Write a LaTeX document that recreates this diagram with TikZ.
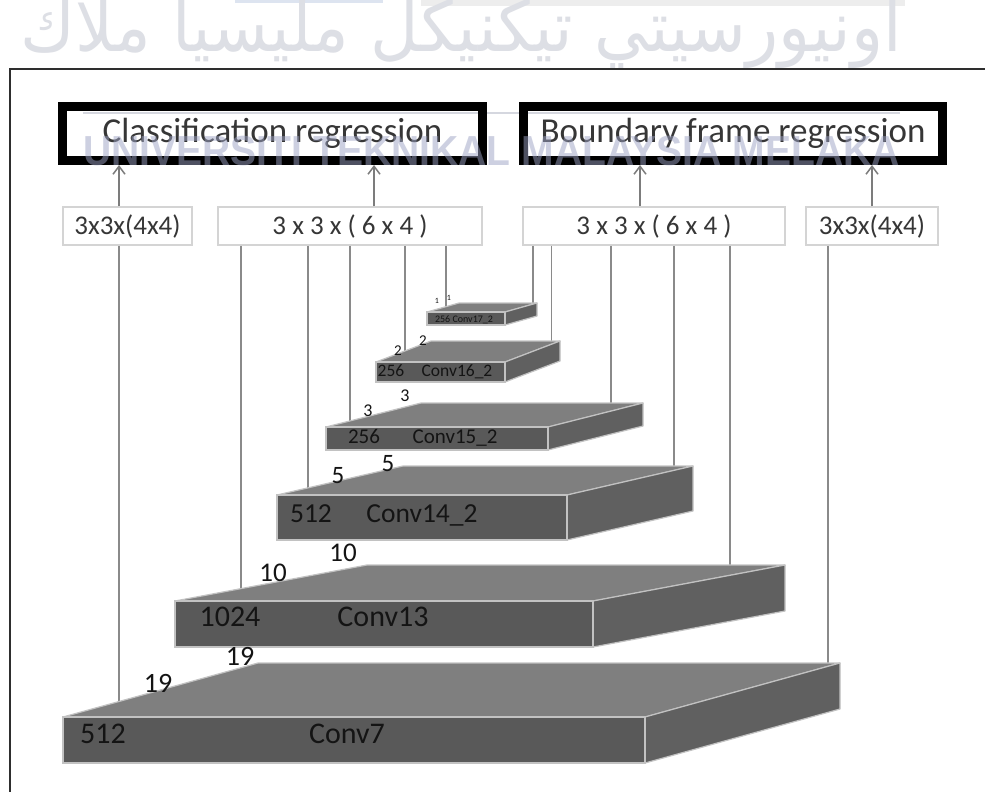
\documentclass[tikz,border=0pt]{standalone}
\usepackage{fontspec}
\usepackage{graphicx}
\setmainfont{Carlito}
\newfontfamily\arabicfont[Script=Arabic]{DejaVu Sans}
\newfontfamily\wmfont{Liberation Sans}
\TeXXeTstate=1
\usetikzlibrary{arrows.meta}

\definecolor{frontgray}{HTML}{595959}
\definecolor{topgray}{HTML}{7F7F7F}
\definecolor{sidegray}{HTML}{606060}
\definecolor{edgegray}{HTML}{C2C2C2}
\definecolor{wiregray}{HTML}{8A8A8A}
\definecolor{arrowgray}{HTML}{7C7C7C}
\definecolor{boxline}{HTML}{D4D4D4}
\definecolor{boxtext}{HTML}{363636}
\definecolor{slabtext}{HTML}{141414}
\definecolor{framegray}{HTML}{2E2E2E}
\definecolor{wmblue}{HTML}{9DA3C4}
\definecolor{wmarabic}{HTML}{DDDFE5}
\definecolor{wmbar}{HTML}{EDEDED}
\definecolor{wmbarblue}{HTML}{DDE4F0}
\definecolor{wmline}{HTML}{D5D7DF}

% one feature-map slab: front-left x, front-right x, top y, bottom y, depth dx, depth dy
\newcommand{\convslab}[6]{%
  \filldraw[fill=topgray,draw=edgegray,line width=1.2pt,line join=round]
    (#1,#3) -- (#2,#3) -- ++(#5,#6) -- ++(#1-#2,0) -- cycle;
  \filldraw[fill=sidegray,draw=edgegray,line width=1.2pt,line join=round]
    (#2,#3) -- ++(#5,#6) -- ++(0,#4-#3) -- (#2,#4) -- cycle;
  \filldraw[fill=frontgray,draw=edgegray,line width=1.2pt]
    (#1,#3) rectangle (#2,#4);
}

\begin{document}
\begin{tikzpicture}[x=1pt,y=-1pt,
  headbox/.style={draw=black,line width=9pt,minimum width=#1,minimum height=54pt,
    inner sep=0pt,text=boxtext,font=\fontsize{35}{40}\selectfont},
  kernbox/.style={draw=boxline,line width=1.5pt,minimum width=#1,minimum height=38pt,
    inner sep=0pt,text=boxtext,font=\fontsize{27}{30}\selectfont},
  wire/.style={draw=wiregray,line width=1.5pt},
  uparrow/.style={draw=arrowgray,line width=1.5pt,-{Straight Barb[length=8pt,width=12pt]}},
  slablabel/.style={inner sep=0pt,text=slabtext,text height=0.63em,text depth=0pt,
    font=\fontsize{#1}{#1}\selectfont},
  dimlabel/.style={inner sep=0pt,text=slabtext,text height=0.63em,text depth=0pt,
    font=\fontsize{#1}{#1}\selectfont}
]
\useasboundingbox (0,0) rectangle (985,792);
\fill[white] (0,0) rectangle (985,792);

% letterhead watermark (background part)
\fill[wmbarblue] (235,0) rectangle (383,3);
\fill[wmbar] (421,0) rectangle (905,6);
\node[anchor=base east,inner sep=0pt,text=wmarabic,
  font=\arabicfont\fontsize{64}{72}\selectfont] (wmjawi) at (902,52)
  {\scalebox{1.04}[1.1]{\beginR اونيورسيتي تيكنيكل مليسيا ملاك\endR}};
\draw[wmline,line width=1.5pt] (83,113) -- (900,113);

% frame
\draw[framegray,line width=2pt] (985,69) -- (10,69) -- (10,792);

% output heads
\node[headbox=420pt] (cls) at (272.5,133.5) {Classification regression};
\node[headbox=419pt] (bbox) at (733,133.5) {Boundary frame regression};

% kernel boxes
\node[kernbox=129pt] (k1) at (127.5,226) {3x3x(4x4)};
\node[kernbox=264pt] (k2) at (350,226) {3 x 3 x ( 6 x 4 )};
\node[kernbox=262pt] (k3) at (654,226) {3 x 3 x ( 6 x 4 )};
\node[kernbox=132pt] (k4) at (872,226) {3x3x(4x4)};

% arrow columns
\coordinate (ax1) at (119,0);
\coordinate (ax2) at (374,0);
\coordinate (ax3) at (640,0);
\coordinate (ax4) at (872,0);
\draw[uparrow] (k1.north -| ax1) -- (cls.south -| ax1);
\draw[uparrow] (k2.north -| ax2) -- (cls.south -| ax2);
\draw[uparrow] (k3.north -| ax3) -- (bbox.south -| ax3);
\draw[uparrow] (k4.north -| ax4) -- (bbox.south -| ax4);

% wire end points on the slabs
\coordinate (w7a) at (119,703);
\coordinate (w7b) at (828,665);
\coordinate (w13a) at (241,590);
\coordinate (w13b) at (730,567);
\coordinate (w14a) at (308,489);
\coordinate (w14b) at (674,468);
\coordinate (w15a) at (350,422);
\coordinate (w15b) at (611,405);
\coordinate (w16a) at (405,352);
\coordinate (w16b) at (551.5,343);
\coordinate (w17a) at (446,308);
\coordinate (w17b) at (533,305);

\draw[wire] (k1.south -| w7a) -- (w7a);
\draw[wire] (k4.south -| w7b) -- (w7b);
\draw[wire] (k2.south -| w13a) -- (w13a);
\draw[wire] (k3.south -| w13b) -- (w13b);
\draw[wire] (k2.south -| w14a) -- (w14a);
\draw[wire] (k3.south -| w14b) -- (w14b);
\draw[wire] (k2.south -| w15a) -- (w15a);
\draw[wire] (k3.south -| w15b) -- (w15b);
\draw[wire] (k2.south -| w16a) -- (w16a);
\draw[wire] (k3.south -| w16b) -- (w16b);
\draw[wire] (k2.south -| w17a) -- (w17a);
\draw[wire] (k3.south -| w17b) -- (w17b);

% feature-map slabs
\convslab{63}{645}{717}{763}{195}{-54}
\convslab{175}{593}{601}{647}{192}{-36}
\convslab{277}{567}{495}{540}{126}{-29}
\convslab{326}{548}{427}{450}{95}{-24}
\convslab{376}{505}{362}{382}{55}{-21}
\convslab{427}{505}{312}{325}{32}{-9}

% slab captions
\node[slablabel=30] (c7n) at (103,740) {512};
\node[slablabel=30] (c7t) at (347,740) {Conv7};
\node[slablabel=30] (c13n) at (230,623) {1024};
\node[slablabel=30] (c13t) at (383,623) {Conv13};
\node[slablabel=27.5] (c14n) at (311,519) {512};
\node[slablabel=27.5] (c14t) at (422,519) {Conv14\_2};
\node[slablabel=21] (c15n) at (364,440) {256};
\node[slablabel=21] (c15t) at (455,440) {Conv15\_2};
\node[slablabel=17.5] (c16n) at (391,373) {256};
\node[slablabel=17.5] (c16t) at (457,373) {Conv16\_2};
\node[slablabel=10] (c17t) at (464,319) {256 Conv17\_2};

% spatial sizes
\node[dimlabel=28] (d7a) at (158,689) {19};
\node[dimlabel=28] (d7b) at (240,662) {19};
\node[dimlabel=27] (d13a) at (273,578) {10};
\node[dimlabel=27] (d13b) at (343,558) {10};
\node[dimlabel=25] (d14a) at (338,480) {5};
\node[dimlabel=25] (d14b) at (388,468) {5};
\node[dimlabel=18] (d15a) at (368,413) {3};
\node[dimlabel=18] (d15b) at (405,398) {3};
\node[dimlabel=15] (d16a) at (398,352) {2};
\node[dimlabel=15] (d16b) at (423,342) {2};
\node[dimlabel=8] (d17a) at (437,300) {1};
\node[dimlabel=8] (d17b) at (449,297) {1};

% letterhead watermark (overprinted name)
\node[anchor=base west,inner sep=0pt,text=wmblue,opacity=0.5,
  font=\wmfont\bfseries\fontsize{42}{44}\selectfont] (wmname) at (83,165)
  {\scalebox{0.93}[1]{UNIVERSITI TEKNIKAL MALAYSIA MELAKA}};
\end{tikzpicture}
\end{document}
